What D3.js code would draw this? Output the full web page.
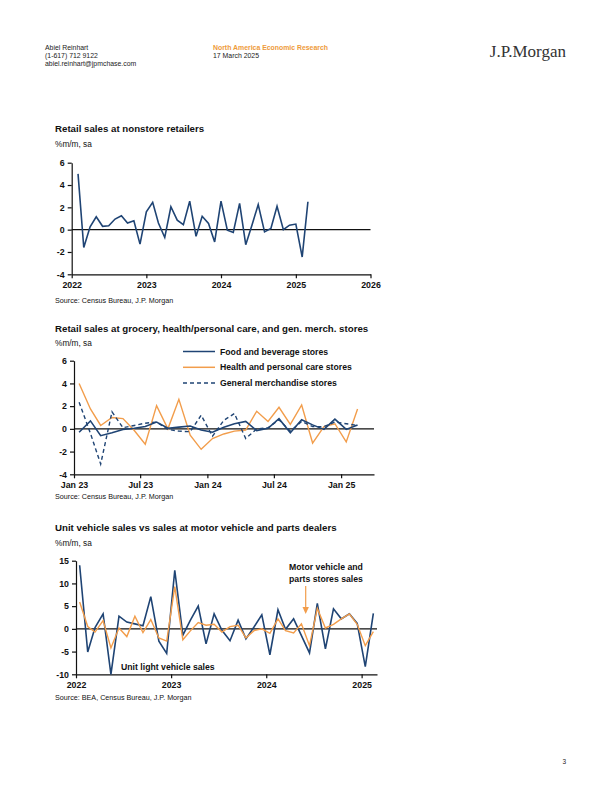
<!DOCTYPE html>
<meta charset="utf-8">
<script src="https://d3js.org/d3.v7.min.js"></script>
<style>
  body { margin: 0; background: #fff; }
  text { font-family: "Liberation Sans", Arial, sans-serif; }
</style>
<div id="page"></div>
<script>
    // chart 1: nonstore retailers, Jan 2022 - Feb 2025
    var nonstoreValues = [5.0, -1.6, 0.25, 1.15, 0.3, 0.35, 0.95, 1.25, 0.6, 0.8, -1.3, 1.6,
        2.45, 0.6, -0.7, 2.05, 0.85, 0.45, 2.55, -0.6, 1.2, 0.55, -1.1, 2.55,
        -0.05, -0.25, 2.35, -1.35, 0.45, 2.25, -0.2, 0.1, 2.1, 0.0, 0.4, 0.5,
        -2.45, 2.5];
    var nonstoreYTicks = [6, 4, 2, 0, -2, -4];
    var nonstoreXTicks = ["2022", "2023", "2024", "2025", "2026"];

    // chart 2: Jan 2023 - Feb 2025
    var foodValues = [-0.3, 0.7, -0.6, -0.35, -0.05, 0.05, 0.2, 0.6, 0.05, 0.15, 0.25, -0.1,
        -0.3, 0.15, 0.45, 0.65, -0.15, 0.05, 0.9, -0.35, 0.8, 0.35, -0.05, 0.85,
        -0.05, 0.35];
    var healthValues = [4.0, 1.75, 0.3, 1.0, 0.9, -0.15, -1.35, 2.05, 0.0, 2.6, -0.55, -1.8,
        -0.85, -0.45, -0.2, -0.1, 1.55, 0.65, 1.9, 0.4, 2.1, -1.25, 0.2, 0.45,
        -1.15, 1.75];
    var merchValues = [2.35, -0.4, -3.1, 1.5, 0.1, 0.3, 0.5, 0.6, -0.05, -0.2, -0.25, 1.2,
        -0.65, 0.75, 1.35, -0.85, 0.0, 0.1, 0.8, -0.2, 0.65, 0.2, 0.2, 0.6,
        0.45, 0.3];
    var groceryYTicks = [6, 4, 2, 0, -2, -4];
    var groceryXTicks = ["Jan 23", "Jul 23", "Jan 24", "Jul 24", "Jan 25"];
    var groceryLegend = ["Food and beverage stores", "Health and personal care stores", "General merchandise stores"];

    // chart 3: Jan 2022 - Feb 2025
    var unitVehicleValues = [14.0, -5.1, 0.3, 3.3, -10.0, 2.8, 1.5, 1.1, 0.7, 7.1, -2.7, -5.4,
        12.9, -1.4, 1.8, 5.0, -3.3, 3.3, -0.3, -2.6, 1.9, -2.2, 0.4, 3.1,
        -5.7, 4.2, -0.1, 2.2, -1.5, -5.3, 5.6, -4.4, 4.4, 2.2, 3.3, 1.2,
        -8.3, 3.4];
    var motorDealerValues = [5.9, 0.5, -0.7, 1.8, -4.2, 0.2, -1.7, 2.8, -0.8, 2.05, -2.0, -2.7,
        9.3, -2.4, -0.5, 1.4, 0.8, 1.0, -0.7, 0.5, 0.8, -2.0, -0.4, 0.0,
        -1.0, 2.2, -0.4, -0.9, 1.1, -3.7, 4.5, 0.2, 1.0, 2.2, 3.3, 1.0,
        -3.7, -0.6];
    var vehicleYTicks = [15, 10, 5, 0, -5, -10];
    var vehicleXTicks = ["2022", "2023", "2024", "2025"];

    var navy = "#1f4474";
    var orange = "#f29d4b";

    var svg = d3.select("#page").append("svg")
        .attr("width", 612)
        .attr("height", 792);

    // page header
    var header = [["Abiel Reinhart", 50], ["(1-617) 712 9122", 58], ["abiel.reinhart@jpmchase.com", 66]];
    svg.selectAll(null).data(header).enter().append("text")
        .attr("x", 45).attr("y", function(d) { return d[1]; })
        .attr("font-size", "6.9px").attr("fill", "#222")
        .text(function(d) { return d[0]; });
    svg.append("text").attr("x", 213).attr("y", 50)
        .attr("font-size", "6.9px").attr("font-weight", "bold").attr("fill", "#ee9a3a")
        .text("North America Economic Research");
    svg.append("text").attr("x", 213).attr("y", 58)
        .attr("font-size", "6.9px").attr("fill", "#222")
        .text("17 March 2025");
    svg.append("text").attr("x", 566).attr("y", 57).attr("text-anchor", "end")
        .attr("font-size", "17px").attr("fill", "#333")
        .style("font-family", "'Liberation Serif', 'DejaVu Serif', serif")
        .text("J.P.Morgan");
    svg.append("text").attr("x", 566).attr("y", 764).attr("text-anchor", "end")
        .attr("font-size", "6.5px").attr("fill", "#222").text("3");

    function monthly(values, year, day, offset) {
        return values.map(function(v, i) {
            return { date: new Date(year, i + offset, day), value: v };
        });
    }

    function drawChart(cfg) {
        var x = d3.scaleTime().domain(cfg.xDomain).range(cfg.xRange);
        var y = d3.scaleLinear().domain(cfg.yDomain).range(cfg.yRange);
        var g = svg.append("g");

        g.append("text").attr("x", 55).attr("y", cfg.titleY)
            .attr("font-size", "9.7px").attr("font-weight", "bold").attr("fill", "#111")
            .text(cfg.title);
        g.append("text").attr("x", 55).attr("y", cfg.titleY + 14.5)
            .attr("font-size", "8.3px").attr("fill", "#111")
            .text("%m/m, sa");
        g.append("text").attr("x", 55).attr("y", cfg.sourceY)
            .attr("font-size", "7.2px").attr("fill", "#111")
            .text(cfg.source);

        var yAxis = g.append("g")
            .attr("transform", "translate(" + cfg.xRange[0] + ",0)")
            .call(d3.axisLeft(y).tickValues(cfg.yTicks).tickSize(4).tickSizeOuter(0).tickPadding(3)
                .tickFormat(function(d) { return String(d); }));
        var xAxis = g.append("g")
            .attr("transform", "translate(0," + cfg.yRange[0] + ")")
            .call(d3.axisBottom(x).tickValues(cfg.xTickDates).tickSize(4).tickSizeOuter(0).tickPadding(3)
                .tickFormat(function(d, i) { return cfg.xTicks[i]; }));
        [yAxis, xAxis].forEach(function(a) {
            a.select(".domain").attr("stroke", "#111").attr("stroke-width", 1.2);
            a.selectAll(".tick line").attr("stroke", "#111").attr("stroke-width", 1.2);
            a.selectAll(".tick text").attr("fill", "#111").attr("font-size", "8.8px")
                .attr("font-weight", "bold").style("font-family", "'Liberation Sans', Arial, sans-serif");
        });

        g.append("line")
            .attr("x1", cfg.xRange[0]).attr("x2", cfg.xRange[1])
            .attr("y1", y(0)).attr("y2", y(0))
            .attr("stroke", "#111").attr("stroke-width", 1.3);

        var line = d3.line()
            .x(function(d) { return x(d.date); })
            .y(function(d) { return y(d.value); });

        cfg.series.forEach(function(s) {
            g.append("path")
                .datum(s.data)
                .attr("fill", "none")
                .attr("stroke", s.color)
                .attr("stroke-width", s.width)
                .attr("stroke-dasharray", s.dash || null)
                .attr("stroke-linejoin", "miter")
                .attr("d", line);
        });
        return { g: g, x: x, y: y };
    }

    // chart 1
    drawChart({
        title: "Retail sales at nonstore retailers",
        source: "Source: Census Bureau, J.P. Morgan",
        titleY: 132, sourceY: 303,
        xDomain: [new Date(2022, 0, 1), new Date(2026, 0, 1)],
        xRange: [71.7, 370.5],
        yDomain: [-4, 6], yRange: [274.3, 162.7],
        yTicks: nonstoreYTicks,
        xTicks: nonstoreXTicks,
        xTickDates: nonstoreXTicks.map(function(t) { return new Date(+t, 0, 1); }),
        series: [{ data: monthly(nonstoreValues, 2022, 1, 1), color: navy, width: 1.6 }]
    });

    // chart 2
    var c2 = drawChart({
        title: "Retail sales at grocery, health/personal care, and gen. merch. stores",
        source: "Source: Census Bureau, J.P. Morgan",
        titleY: 331.5, sourceY: 499,
        xDomain: [new Date(2023, 0, 1), new Date(2025, 3, 1)],
        xRange: [74, 374],
        yDomain: [-4, 6], yRange: [474.3, 360.7],
        yTicks: groceryYTicks,
        xTicks: groceryXTicks,
        xTickDates: groceryXTicks.map(function(t, i) { return new Date(2023, i * 6, 1); }),
        series: [
            { data: monthly(healthValues, 2023, 15, 0), color: orange, width: 1.4 },
            { data: monthly(merchValues, 2023, 15, 0), color: navy, width: 1.4, dash: "4,3" },
            { data: monthly(foodValues, 2023, 15, 0), color: navy, width: 1.6 }
        ]
    });
    var legendStyle = [{ color: navy, dash: null }, { color: orange, dash: null }, { color: navy, dash: "4,3" }];
    var legend = c2.g.selectAll(".legend").data(groceryLegend).enter().append("g")
        .attr("transform", function(d, i) { return "translate(183," + (351.5 + i * 15.8) + ")"; });
    legend.append("line")
        .attr("x1", 0).attr("x2", 32).attr("y1", 0).attr("y2", 0)
        .attr("stroke", function(d, i) { return legendStyle[i].color; })
        .attr("stroke-width", 1.5)
        .attr("stroke-dasharray", function(d, i) { return legendStyle[i].dash; });
    legend.append("text")
        .attr("x", 37).attr("y", 3)
        .attr("font-size", "8.7px").attr("font-weight", "bold").attr("fill", "#111")
        .text(function(d) { return d; });

    // chart 3
    var c3 = drawChart({
        title: "Unit vehicle sales vs sales at motor vehicle and parts dealers",
        source: "Source: BEA, Census Bureau, J.P. Morgan",
        titleY: 531, sourceY: 700,
        xDomain: [new Date(2022, 0, 1), new Date(2025, 2, 1)],
        xRange: [76, 377],
        yDomain: [-10, 15], yRange: [674.3, 560.7],
        yTicks: vehicleYTicks,
        xTicks: vehicleXTicks,
        xTickDates: vehicleXTicks.map(function(t) { return new Date(+t, 0, 1); }),
        series: [
            { data: monthly(unitVehicleValues, 2022, 15, 0), color: navy, width: 1.6 },
            { data: monthly(motorDealerValues, 2022, 15, 0), color: orange, width: 1.4 }
        ]
    });
    c3.g.append("text").attr("x", 121).attr("y", 669.5)
        .attr("font-size", "8.7px").attr("font-weight", "bold").attr("fill", "#111")
        .text("Unit light vehicle sales");
    var motorLabel = c3.g.append("text").attr("x", 326).attr("y", 570)
        .attr("text-anchor", "middle")
        .attr("font-size", "8.7px").attr("font-weight", "bold").attr("fill", "#111");
    motorLabel.append("tspan").attr("x", 326).attr("dy", 0).text("Motor vehicle and");
    motorLabel.append("tspan").attr("x", 326).attr("dy", 11.5).text("parts stores sales");
    c3.g.append("line")
        .attr("x1", 305.7).attr("x2", 305.7).attr("y1", 586).attr("y2", 609)
        .attr("stroke", orange).attr("stroke-width", 1.2);
    c3.g.append("path")
        .attr("d", "M302.5,607 L305.7,614 L308.9,607 Z")
        .attr("fill", orange);
</script>
